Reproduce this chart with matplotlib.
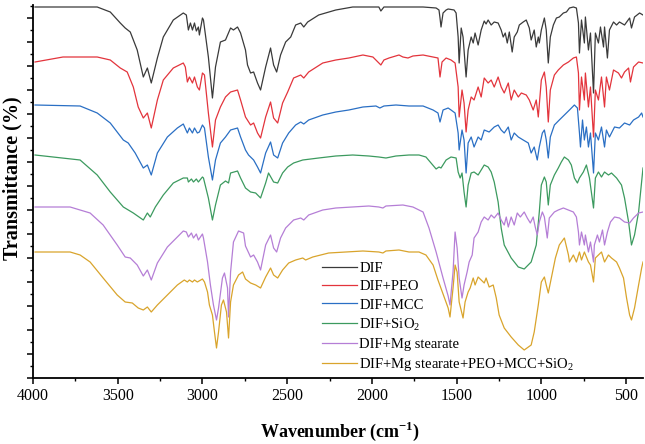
import matplotlib
matplotlib.use("Agg")
import matplotlib.pyplot as plt
from matplotlib.ticker import MultipleLocator, NullFormatter
import numpy as np

# ---------------- data (wavenumber, relative transmittance) ----------------
dif_wn = [3988, 3621, 3544, 3485, 3456, 3426, 3385, 3349, 3325, 3302, 3266, 3231, 3172, 3113, 3095, 3083,
          3071, 3059, 3047, 3036, 3024, 3018, 3000, 2994, 2965, 2941, 2923, 2894, 2864, 2834, 2817, 2793,
          2775, 2746, 2734, 2716, 2698, 2675, 2657, 2627, 2598, 2580, 2562, 2539, 2509, 2479, 2450, 2420,
          2402, 2379, 2314, 2213, 2113, 2018, 1959, 1947, 1929, 1858, 1781, 1698, 1621, 1604, 1598, 1592,
          1580, 1562, 1550, 1515, 1503, 1491, 1485, 1473, 1462, 1444, 1432, 1414, 1402, 1391, 1373, 1355,
          1337, 1326, 1314, 1296, 1278, 1255, 1237, 1225, 1213, 1201, 1189, 1172, 1160, 1142, 1130, 1107,
          1089, 1071, 1060, 1042, 1030, 1018, 1012, 1000, 982, 971, 959, 947, 929, 911, 894, 870,
          852, 834, 811, 793, 781, 775, 763, 746, 740, 722, 710, 692, 681, 663, 651, 633,
          627, 610, 598, 574, 556, 539, 509, 479, 468, 450, 420, 400]
dif_t = [371, 371, 366, 355, 350, 346, 328, 301, 310, 295, 320, 341, 358, 365, 363, 348,
         355, 348, 355, 347, 351, 343, 360, 358, 321, 280, 311, 336, 338, 350, 348, 351,
         345, 328, 313, 305, 306, 295, 288, 311, 330, 313, 306, 323, 336, 341, 353, 355,
         351, 356, 363, 368, 371, 371, 371, 367, 371, 371, 371, 371, 370, 368, 360, 351,
         365, 368, 369, 368, 365, 341, 315, 350, 341, 301, 328, 341, 335, 345, 333, 348,
         357, 354, 358, 353, 356, 355, 348, 341, 345, 335, 346, 326, 341, 346, 353, 356,
         358, 350, 338, 348, 331, 341, 335, 348, 360, 348, 315, 341, 353, 360, 361, 365,
         366, 370, 371, 370, 355, 325, 358, 335, 361, 328, 345, 285, 345, 335, 351, 331,
         351, 320, 348, 356, 353, 356, 353, 360, 350, 361, 365, 363]

peo_wn = [3988, 3823, 3621, 3544, 3485, 3444, 3408, 3379, 3349, 3325, 3302, 3266, 3231, 3172, 3113, 3101,
          3089, 3077, 3059, 3047, 3030, 3018, 3000, 2988, 2965, 2941, 2923, 2894, 2864, 2834, 2793, 2775,
          2746, 2716, 2698, 2675, 2657, 2627, 2598, 2580, 2556, 2527, 2497, 2462, 2420, 2402, 2373, 2290,
          2213, 2136, 2053, 1994, 1965, 1947, 1929, 1899, 1840, 1817, 1787, 1758, 1698, 1639, 1610, 1598,
          1586, 1562, 1533, 1509, 1491, 1485, 1468, 1456, 1444, 1432, 1414, 1397, 1373, 1355, 1337, 1314,
          1296, 1278, 1255, 1237, 1219, 1195, 1178, 1160, 1136, 1118, 1089, 1071, 1048, 1030, 1018, 1000,
          982, 971, 959, 947, 923, 900, 870, 840, 811, 793, 781, 775, 763, 746, 740, 722,
          710, 692, 681, 663, 645, 627, 616, 598, 574, 545, 527, 509, 485, 474, 456, 426, 400]
peo_t = [316, 321, 321, 318, 310, 306, 291, 271, 260, 265, 250, 278, 298, 310, 315, 311,
         296, 301, 295, 301, 291, 288, 305, 303, 265, 231, 258, 271, 281, 286, 288, 278,
         261, 253, 255, 245, 240, 261, 276, 260, 255, 275, 286, 300, 303, 300, 306, 315,
         318, 320, 323, 321, 316, 313, 318, 320, 323, 321, 320, 322, 323, 321, 320, 301,
         316, 320, 318, 315, 291, 261, 288, 275, 246, 268, 281, 278, 291, 281, 300, 295,
         298, 291, 301, 291, 285, 295, 278, 288, 281, 285, 283, 278, 268, 278, 261, 298,
         306, 291, 256, 288, 303, 308, 313, 316, 320, 321, 305, 268, 301, 278, 305, 271,
         291, 241, 288, 278, 301, 271, 301, 288, 308, 305, 300, 306, 310, 296, 311, 316, 315]

mcc_wn = [3988, 3722, 3621, 3544, 3467, 3438, 3397, 3349, 3325, 3302, 3266, 3207, 3148, 3113, 3089, 3077,
          3059, 3047, 3030, 3018, 3000, 2988, 2965, 2941, 2923, 2894, 2864, 2834, 2793, 2775, 2746, 2728,
          2698, 2675, 2657, 2627, 2598, 2580, 2556, 2527, 2491, 2450, 2420, 2402, 2373, 2290, 2213, 2136,
          2053, 1976, 1953, 1929, 1858, 1781, 1698, 1639, 1610, 1598, 1580, 1550, 1533, 1509, 1491, 1485,
          1468, 1456, 1444, 1432, 1414, 1397, 1373, 1355, 1337, 1308, 1278, 1255, 1237, 1219, 1195, 1178,
          1160, 1136, 1107, 1077, 1060, 1042, 1024, 1012, 994, 982, 971, 959, 947, 923, 894, 864,
          834, 805, 787, 775, 769, 757, 746, 734, 722, 710, 692, 681, 663, 645, 627, 616,
          598, 568, 539, 509, 479, 456, 426, 408, 400]
mcc_t = [273, 272, 265, 255, 238, 235, 225, 210, 213, 203, 225, 241, 250, 254, 245, 250,
         245, 250, 245, 246, 253, 250, 221, 198, 218, 235, 241, 248, 250, 241, 228, 223,
         218, 211, 205, 225, 236, 223, 220, 235, 245, 253, 256, 254, 258, 263, 266, 268,
         271, 272, 270, 272, 273, 272, 272, 268, 265, 256, 268, 270, 268, 265, 245, 228,
         248, 238, 205, 235, 241, 231, 241, 238, 248, 246, 251, 253, 248, 245, 251, 238,
         245, 241, 238, 235, 225, 231, 218, 231, 245, 248, 238, 220, 241, 253, 258, 263,
         268, 273, 270, 245, 231, 258, 238, 251, 231, 245, 205, 245, 238, 251, 231, 248,
         241, 251, 250, 255, 253, 258, 261, 265, 261]

sio2_wn = [3988, 3722, 3621, 3544, 3467, 3408, 3349, 3325, 3308, 3278, 3231, 3172, 3113, 3089, 3083, 3065,
           3053, 3036, 3024, 3000, 2994, 2965, 2941, 2923, 2894, 2864, 2846, 2834, 2793, 2775, 2746, 2716,
           2686, 2657, 2627, 2610, 2580, 2556, 2527, 2497, 2462, 2408, 2314, 2213, 2113, 2018, 1959, 1917,
           1858, 1781, 1722, 1681, 1651, 1621, 1604, 1592, 1562, 1533, 1503, 1491, 1479, 1468, 1456, 1444,
           1432, 1414, 1397, 1373, 1355, 1337, 1314, 1296, 1278, 1255, 1237, 1219, 1178, 1136, 1101, 1060,
           1030, 1012, 1000, 982, 971, 959, 947, 923, 900, 882, 864, 840, 823, 805, 787, 775,
           752, 734, 716, 692, 681, 663, 645, 627, 604, 586, 556, 527, 509, 485, 468, 450,
           426, 400]
sio2_t = [223, 218, 203, 186, 171, 165, 158, 165, 161, 171, 183, 195, 200, 200, 196, 199,
          196, 199, 196, 201, 200, 180, 158, 173, 193, 197, 195, 205, 207, 200, 190, 186,
          185, 180, 195, 205, 196, 195, 205, 211, 215, 218, 220, 222, 223, 222, 221, 220,
          222, 223, 223, 221, 215, 209, 211, 210, 218, 221, 220, 206, 200, 205, 186, 171,
          193, 205, 206, 203, 208, 213, 211, 206, 196, 176, 150, 133, 120, 111, 109, 116,
          133, 166, 193, 201, 196, 173, 193, 203, 210, 216, 221, 218, 213, 200, 195, 200,
          206, 213, 200, 170, 200, 206, 201, 206, 203, 205, 200, 193, 180, 156, 133, 143,
          166, 210]

mgst_wn = [3988, 3781, 3663, 3586, 3503, 3456, 3426, 3385, 3349, 3325, 3302, 3266, 3207, 3148, 3113, 3095,
           3083, 3065, 3053, 3036, 3024, 3000, 2994, 2970, 2953, 2935, 2917, 2905, 2882, 2870, 2852, 2846,
           2834, 2817, 2787, 2757, 2746, 2716, 2698, 2675, 2657, 2627, 2598, 2580, 2562, 2539, 2509, 2462,
           2420, 2402, 2373, 2290, 2213, 2113, 2018, 1959, 1935, 1917, 1817, 1758, 1698, 1663, 1621, 1580,
           1550, 1539, 1521, 1509, 1497, 1485, 1468, 1456, 1438, 1426, 1408, 1397, 1373, 1355, 1337, 1314,
           1296, 1278, 1255, 1237, 1219, 1207, 1195, 1178, 1160, 1142, 1124, 1101, 1083, 1065, 1048, 1036,
           1024, 1012, 994, 982, 965, 953, 923, 900, 870, 840, 811, 793, 781, 775, 763, 746,
           740, 722, 710, 692, 687, 669, 657, 639, 627, 610, 592, 568, 539, 509, 479, 456,
           426, 400]
mgst_t = [171, 171, 165, 153, 133, 121, 120, 113, 102, 108, 98, 115, 131, 141, 147, 146,
          141, 145, 140, 144, 138, 144, 140, 116, 93, 73, 58, 70, 100, 105, 90, 61,
          106, 136, 147, 145, 132, 121, 123, 116, 108, 133, 143, 130, 126, 140, 150, 158,
          160, 158, 163, 168, 170, 171, 172, 171, 170, 172, 173, 171, 166, 150, 126, 100,
          82, 73, 106, 146, 130, 100, 80, 93, 106, 116, 123, 140, 146, 156, 161, 158,
          163, 160, 165, 158, 153, 161, 151, 161, 153, 165, 161, 166, 160, 155, 161, 151,
          143, 156, 166, 161, 140, 160, 166, 168, 170, 168, 166, 161, 146, 133, 146, 133,
          143, 126, 136, 116, 133, 143, 136, 148, 133, 146, 156, 161, 160, 156, 155, 160,
          165, 166]

mix_wn = [3988, 3781, 3722, 3663, 3586, 3503, 3456, 3414, 3379, 3349, 3325, 3302, 3266, 3207, 3148, 3107,
          3089, 3077, 3059, 3047, 3030, 3000, 2988, 2970, 2959, 2941, 2929, 2917, 2905, 2888, 2876, 2858,
          2846, 2834, 2817, 2787, 2763, 2746, 2716, 2686, 2657, 2627, 2598, 2580, 2556, 2527, 2491, 2450,
          2408, 2391, 2349, 2255, 2154, 2053, 1959, 1935, 1917, 1840, 1781, 1722, 1681, 1639, 1610, 1580,
          1550, 1539, 1521, 1509, 1497, 1485, 1462, 1450, 1432, 1420, 1402, 1391, 1373, 1355, 1337, 1326,
          1308, 1284, 1266, 1249, 1219, 1178, 1136, 1101, 1060, 1042, 1018, 1000, 982, 971, 959, 941,
          917, 894, 864, 840, 834, 811, 793, 775, 763, 746, 722, 710, 692, 681, 663, 645,
          627, 604, 586, 556, 539, 515, 497, 479, 468, 450, 426, 408, 400]
mix_t = [126, 126, 123, 116, 100, 83, 76, 75, 70, 68, 71, 66, 73, 83, 93, 98,
         96, 98, 96, 98, 96, 99, 96, 86, 73, 63, 46, 30, 46, 73, 78, 66,
         40, 76, 93, 103, 106, 99, 95, 93, 90, 101, 110, 103, 100, 108, 115, 118,
         120, 118, 121, 125, 126, 127, 126, 125, 127, 128, 126, 126, 123, 113, 98, 84,
         70, 61, 90, 113, 106, 76, 60, 76, 86, 90, 100, 93, 101, 98, 95, 100,
         91, 93, 80, 63, 50, 41, 33, 28, 33, 46, 73, 96, 101, 93, 85, 100,
         120, 133, 140, 123, 116, 123, 116, 126, 118, 126, 116, 113, 96, 120, 123, 126,
         116, 123, 120, 116, 110, 100, 80, 63, 58, 70, 93, 110, 116]

labels = ["DIF", "DIF+PEO", "DIF+MCC", "DIF+SiO$_2$", "DIF+Mg stearate",
          "DIF+Mg stearate+PEO+MCC+SiO$_2$"]
colors = ["#3a3a3a", "#e3343c", "#2a6fc4", "#3c9a5f", "#b57ed6", "#d9a42c"]
series = [(dif_wn, dif_t), (peo_wn, peo_t), (mcc_wn, mcc_t), (sio2_wn, sio2_t),
          (mgst_wn, mgst_t), (mix_wn, mix_t)]

# ---------------- plotting ----------------
plt.rcParams['font.family'] = ['Liberation Serif', 'DejaVu Serif']
plt.rcParams['mathtext.fontset'] = 'custom'
plt.rcParams['mathtext.rm'] = 'Liberation Serif'
plt.rcParams['mathtext.bf'] = 'Liberation Serif:bold'

fig = plt.figure(figsize=(6.45, 4.44), dpi=100)
ax = fig.add_axes([33 / 645, 66 / 444, 610 / 645, 373 / 444])

for (wn, t), c, lab in zip(series, colors, labels):
    ax.plot(wn, t, color=c, lw=0.9, label=lab)

ax.set_xlim(4000, 400)
ax.set_ylim(0, 373)
for s in ("top", "right"):
    ax.spines[s].set_visible(False)
for s in ("left", "bottom"):
    ax.spines[s].set_linewidth(1.3)

ax.xaxis.set_major_locator(MultipleLocator(500))
ax.xaxis.set_minor_locator(MultipleLocator(250))
ax.yaxis.set_major_locator(MultipleLocator(24))
ax.yaxis.set_minor_locator(MultipleLocator(12))
ax.yaxis.set_major_formatter(NullFormatter())
ax.tick_params(axis='both', which='major', direction='out', length=4.5, width=1.1, labelsize=11.5)
ax.tick_params(axis='both', which='minor', direction='out', length=2.5, width=1.0)
ax.tick_params(axis='x', pad=3)

fig.text(340 / 645, 1 - 431 / 444, "Wavenumber (cm$^{\\mathbf{-1}}$)", fontsize=13,
         fontweight='bold', ha='center', va='center')
fig.text(12 / 645, 1 - 178 / 444, "Transmittance (%)", fontsize=14.5, fontweight='bold',
         rotation=90, ha='center', va='center')

leg = ax.legend(loc='upper left', bbox_to_anchor=(322 / 645, 1 - 262 / 444),
                bbox_transform=fig.transFigure, frameon=False, fontsize=10.5,
                handlelength=2.4, handletextpad=0.15, labelspacing=0.34, borderpad=0,
                borderaxespad=0)

fig.savefig("out.png", dpi=100)
